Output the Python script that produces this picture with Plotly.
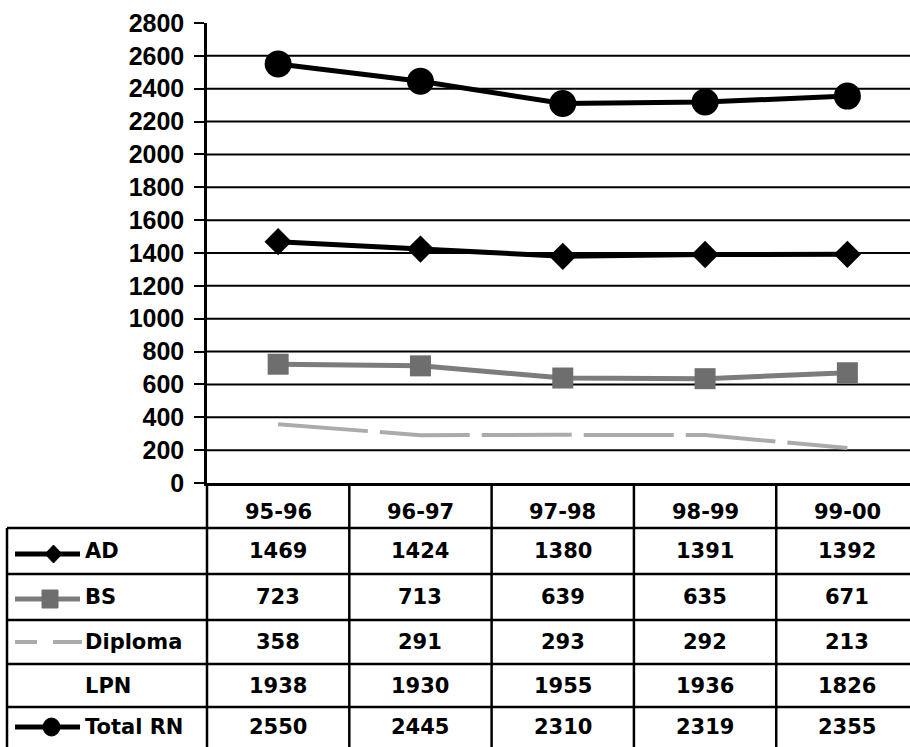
import plotly.graph_objects as go

categories = ["95-96", "96-97", "97-98", "98-99", "99-00"]
ad = [1469, 1424, 1380, 1391, 1392]
bs = [723, 713, 639, 635, 671]
diploma = [358, 291, 293, 292, 213]
lpn = [1938, 1930, 1955, 1936, 1826]
total_rn = [2550, 2445, 2310, 2319, 2355]
y_ticks = list(range(0, 2801, 200))
row_labels = ["AD", "BS", "Diploma", "LPN", "Total RN"]
row_values = [ad, bs, diploma, lpn, total_rn]

W, H = 910, 747


def fx(p):
    return p / W


def fy(p):
    return 1 - p / H


TICKFONT = dict(family="Liberation Sans, Arial, sans-serif", size=25, color="black", weight="bold")
TABFONT = dict(family="DejaVu Sans, Arial, sans-serif", size=21, color="black", weight="bold")

idx = list(range(len(categories)))
fig = go.Figure()
fig.add_trace(go.Scatter(x=idx, y=diploma, mode="lines", name="Diploma",
                         line=dict(color="#ababab", width=4, dash="90px,12px")))
fig.add_trace(go.Scatter(x=idx, y=bs, mode="lines+markers", name="BS",
                         line=dict(color="#7c7c7c", width=5),
                         marker=dict(symbol="square", size=21, color="#6e6e6e")))
fig.add_trace(go.Scatter(x=idx, y=ad, mode="lines+markers", name="AD",
                         line=dict(color="black", width=5),
                         marker=dict(symbol="diamond", size=21, color="black")))
fig.add_trace(go.Scatter(x=idx, y=total_rn, mode="lines+markers", name="Total RN",
                         line=dict(color="black", width=5),
                         marker=dict(symbol="circle", size=27, color="black")))

shapes = []
# horizontal gridlines (no line at top value)
for v in y_ticks[1:-1]:
    shapes.append(dict(type="line", xref="paper", yref="y", x0=fx(207), x1=1, y0=v, y1=v,
                       line=dict(color="black", width=2), layer="below"))

# table lines
row_lines = [528, 574, 620, 664, 707]
for r in row_lines:
    shapes.append(dict(type="line", xref="paper", yref="paper", x0=fx(7), x1=1, y0=fy(r), y1=fy(r),
                       line=dict(color="black", width=2.5)))
# vertical: y axis continued, left border, category separators
shapes.append(dict(type="line", xref="paper", yref="paper", x0=fx(207), x1=fx(207), y0=fy(483), y1=0,
                   line=dict(color="black", width=2.5)))
shapes.append(dict(type="line", xref="paper", yref="paper", x0=fx(7), x1=fx(7), y0=fy(528), y1=0,
                   line=dict(color="black", width=2.5)))
for k in range(len(categories) - 1):
    shapes.append(dict(type="line", xref="x", yref="paper", x0=k + 0.5, x1=k + 0.5, y0=fy(483), y1=0,
                       line=dict(color="black", width=2.5)))

# legend keys inside the table
row_centers = [551, 597, 642, 686, 727]
# AD key
y = 554
shapes.append(dict(type="line", xref="paper", yref="paper", x0=fx(15), x1=fx(80), y0=fy(y), y1=fy(y),
                   line=dict(color="black", width=5)))
shapes.append(dict(type="path", xref="paper", yref="paper",
                   path=f"M {fx(45)},{fy(y)} L {fx(53.5)},{fy(y-9)} L {fx(62)},{fy(y)} L {fx(53.5)},{fy(y+9)} Z",
                   fillcolor="black", line=dict(color="black", width=1)))
# BS key
y = 599
shapes.append(dict(type="line", xref="paper", yref="paper", x0=fx(15), x1=fx(80), y0=fy(y), y1=fy(y),
                   line=dict(color="#7c7c7c", width=5)))
shapes.append(dict(type="rect", xref="paper", yref="paper", x0=fx(42), x1=fx(58), y0=fy(y - 9), y1=fy(y + 9),
                   fillcolor="#6e6e6e", line=dict(color="#6e6e6e", width=1)))
# Diploma key
y = 642
shapes.append(dict(type="line", xref="paper", yref="paper", x0=fx(15), x1=fx(37), y0=fy(y), y1=fy(y),
                   line=dict(color="#ababab", width=4)))
shapes.append(dict(type="line", xref="paper", yref="paper", x0=fx(53), x1=fx(82), y0=fy(y), y1=fy(y),
                   line=dict(color="#ababab", width=4)))
# Total RN key
y = 727
shapes.append(dict(type="line", xref="paper", yref="paper", x0=fx(15), x1=fx(80), y0=fy(y), y1=fy(y),
                   line=dict(color="black", width=5)))
shapes.append(dict(type="circle", xref="paper", yref="paper", x0=fx(43), x1=fx(60), y0=fy(y - 9), y1=fy(y + 9),
                   fillcolor="black", line=dict(color="black", width=1)))

annotations = []
for i, c in enumerate(categories):
    annotations.append(dict(x=i, xref="x", y=fy(512), yref="paper", text=c, showarrow=False,
                            font=TABFONT, xanchor="center", yanchor="middle"))
for r, (lab, vals) in enumerate(zip(row_labels, row_values)):
    yc = row_centers[r]
    annotations.append(dict(x=fx(83), xref="paper", y=fy(yc), yref="paper", text=lab, showarrow=False,
                            font=TABFONT, xanchor="left", yanchor="middle"))
    for i, v in enumerate(vals):
        annotations.append(dict(x=i, xref="x", y=fy(yc), yref="paper", text=str(v), showarrow=False,
                                font=TABFONT, xanchor="center", yanchor="middle"))

fig.update_layout(
    width=W, height=H,
    margin=dict(l=0, r=0, t=0, b=0, pad=0),
    paper_bgcolor="white", plot_bgcolor="rgba(0,0,0,0)",
    showlegend=False,
    xaxis=dict(domain=[fx(207), 1], range=[-0.5, 4.44], showticklabels=False, ticks="",
               showgrid=False, zeroline=False, showline=True, linecolor="black", linewidth=2.5,
               automargin=False),
    yaxis=dict(domain=[fy(483), fy(23)], range=[0, 2800], tickvals=y_ticks,
               ticks="outside", ticklen=10, tickwidth=2, tickcolor="black",
               showgrid=False, zeroline=False, showline=True, linecolor="black", linewidth=2.5,
               tickfont=TICKFONT, ticklabelstandoff=5, automargin=False),
    shapes=shapes,
    annotations=annotations,
)

fig.write_html("out.html")
